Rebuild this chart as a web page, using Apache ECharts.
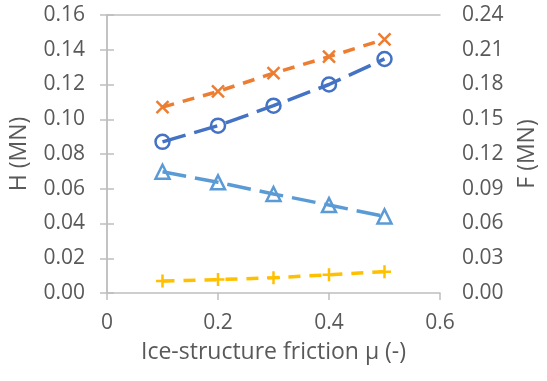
<!DOCTYPE html>
<html><head><meta charset="utf-8">
<script src="https://cdn.jsdelivr.net/npm/echarts@6/dist/echarts.min.js"></script>
<style>html,body{margin:0;padding:0;background:#fff}#c{width:547px;height:381px}</style>
</head><body><div id="c"></div>
<script>
const mu = [0.1, 0.2, 0.3, 0.4, 0.5];
const seriesX = [0.107, 0.116, 0.1265, 0.136, 0.146];
const seriesCircle = [0.087, 0.0963, 0.1078, 0.120, 0.1347];
const seriesTriangle = [0.0698, 0.0637, 0.057, 0.0506, 0.0441];
const seriesPlus = [0.0069, 0.0077, 0.0088, 0.0105, 0.0123];
const xTickLabels = ['0', '0.2', '0.4', '0.6'];
const hTickLabels = ['0.00','0.02','0.04','0.06','0.08','0.10','0.12','0.14','0.16'];
const fTickLabels = ['0.00','0.03','0.06','0.09','0.12','0.15','0.18','0.21','0.24'];

const txt = '#595959', axc = '#bfbfbf', FONT = 'Open Sans';
const pair = arr => mu.map((m, i) => [m, arr[i]]);
const xPath = 'path://M0,0L10,10M10,0L0,10';
const plusPath = 'path://M5,0L5,10M0,5L10,5';
const clear = 'rgba(0,0,0,0)';

const chart = echarts.init(document.getElementById('c'));
chart.setOption({
  animation: false,
  grid: {left: 106, right: 104, top: 15, bottom: 88},
  xAxis: [{
    type: 'value', min: 0, max: 0.6, interval: 0.2,
    name: 'Ice-structure friction μ (-)', nameLocation: 'middle', nameGap: 48,
    nameTextStyle: {color: txt, fontSize: 23, fontFamily: FONT},
    axisLine: {show: true, lineStyle: {color: axc, width: 1.5}},
    axisTick: {show: true, length: 7, lineStyle: {color: axc, width: 1.5}},
    splitLine: {show: false},
    axisLabel: {color: txt, fontSize: 21, fontFamily: FONT, margin: 20,
      formatter: (v) => xTickLabels[Math.round(v / 0.2)]}
  }, {
    type: 'value', min: 0, max: 0.6, position: 'top',
    axisLine: {show: true, onZero: false, lineStyle: {color: axc, width: 1.5}},
    axisTick: {show: false}, axisLabel: {show: false}, splitLine: {show: false}
  }],
  yAxis: [{
    type: 'value', min: 0, max: 0.16, interval: 0.02, position: 'left',
    name: 'H (MN)', nameLocation: 'middle', nameGap: 76, nameRotate: 90,
    nameTextStyle: {color: txt, fontSize: 23, fontFamily: FONT},
    axisLine: {show: true, lineStyle: {color: axc, width: 1.5}},
    axisTick: {show: true, length: 7, lineStyle: {color: axc, width: 1.5}},
    splitLine: {show: false},
    axisLabel: {color: txt, fontSize: 21, fontFamily: FONT, margin: 22,
      formatter: (v) => hTickLabels[Math.round(v / 0.02)]}
  }, {
    type: 'value', min: 0, max: 0.24, interval: 0.03, position: 'right',
    name: 'F (MN)', nameLocation: 'middle', nameGap: 76, nameRotate: 90,
    nameTextStyle: {color: txt, fontSize: 23, fontFamily: FONT},
    axisLine: {show: true, lineStyle: {color: axc, width: 1.5}},
    axisTick: {show: true, length: 7, lineStyle: {color: axc, width: 1.5}},
    splitLine: {show: false},
    axisLabel: {color: txt, fontSize: 21, fontFamily: FONT, margin: 22,
      formatter: (v) => fTickLabels[Math.round(v / 0.03)]}
  }],
  series: [
    {type: 'line', data: pair(seriesX), symbol: xPath, symbolSize: 12,
      lineStyle: {color: '#ED7D31', width: 3.5, type: [12, 9]},
      itemStyle: {color: clear, borderColor: '#ED7D31', borderWidth: 2.5}},
    {type: 'line', data: pair(seriesCircle), symbol: 'circle', symbolSize: 14,
      lineStyle: {color: '#4472C4', width: 3.5, type: [24, 9]},
      itemStyle: {color: clear, borderColor: '#4472C4', borderWidth: 2.5}},
    {type: 'line', data: pair(seriesTriangle), symbol: 'triangle', symbolSize: 14,
      lineStyle: {color: '#5B9BD5', width: 3.5, type: [24, 9]},
      itemStyle: {color: clear, borderColor: '#5B9BD5', borderWidth: 2.5}},
    {type: 'line', data: pair(seriesPlus), symbol: plusPath, symbolSize: 13,
      lineStyle: {color: '#FFC000', width: 3.5, type: [12, 9]},
      itemStyle: {color: clear, borderColor: '#FFC000', borderWidth: 2.5}}
  ]
});
</script></body></html>
